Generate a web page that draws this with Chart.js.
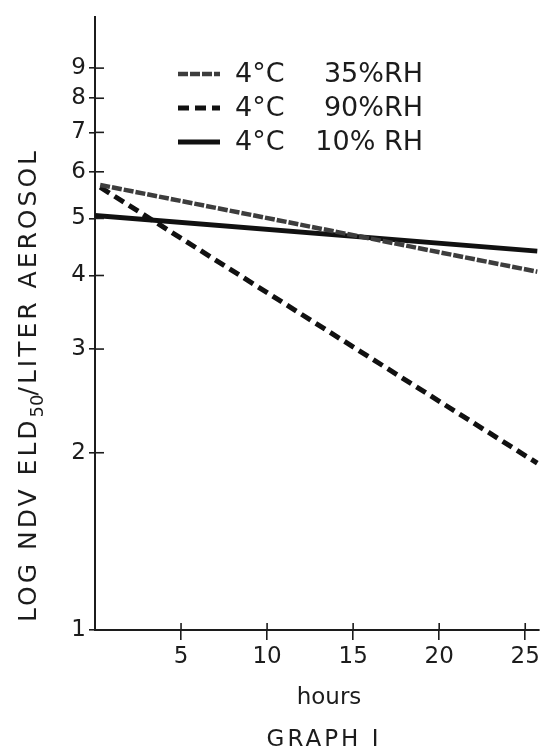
<!DOCTYPE html>
<html>
<head>
<meta charset="utf-8">
<script src="https://cdn.jsdelivr.net/npm/chart.js@4.4.0/dist/chart.umd.min.js"></script>
<style>
  html, body { margin: 0; padding: 0; background: #fff; }
  #wrap { width: 554px; height: 753px; }
</style>
</head>
<body>
<div id="wrap"><canvas id="graph"></canvas></div>
<script>
// values (hours vs ELD50 per liter, log axis)
const hours35 = [0.3, 25.7];
const ndv35 = [5.7, 4.06];
const hours90 = [0.3, 25.7];
const ndv90 = [5.65, 1.92];
const hours10 = [0, 25.7];
const ndv10 = [5.06, 4.4];

const legendTemp = ['4°C', '4°C', '4°C'];
const legendRH = ['35%RH', '90%RH', '10% RH'];

const yTicks = [1, 2, 3, 4, 5, 6, 7, 8, 9];
const xTicks = [5, 10, 15, 20, 25];

const FONT = 'DejaVu Sans';
const INK = '#1c1c1c';

function pts(xs, ys) {
  return xs.map((x, i) => ({x: x, y: ys[i]}));
}

// little cross marks on the axes + legend + titles
const paperBits = {
  id: 'paperBits',
  afterDraw(chart) {
    const ctx = chart.ctx;
    const xs = chart.scales.x, ys = chart.scales.y;
    const area = chart.chartArea;
    ctx.save();
    ctx.strokeStyle = INK;
    ctx.lineWidth = 1.6;
    yTicks.forEach(v => {
      const py = ys.getPixelForValue(v);
      if (v === 1) return;
      ctx.beginPath();
      ctx.moveTo(area.left, py);
      ctx.lineTo(area.left + 9, py);
      ctx.stroke();
    });
    xTicks.forEach(v => {
      const px = xs.getPixelForValue(v);
      ctx.beginPath();
      ctx.moveTo(px, area.bottom);
      ctx.lineTo(px, area.bottom - 7);
      ctx.stroke();
    });

    // legend
    const rowY = [74, 108, 142];
    chart.data.datasets.forEach((ds, i) => {
      ctx.save();
      ctx.strokeStyle = ds.borderColor;
      ctx.lineWidth = ds.borderWidth;
      ctx.setLineDash(ds.borderDash || []);
      ctx.beginPath();
      ctx.moveTo(178, rowY[i]);
      ctx.lineTo(220, rowY[i]);
      ctx.stroke();
      ctx.restore();
      ctx.fillStyle = INK;
      ctx.font = '27px "' + FONT + '"';
      ctx.textBaseline = 'middle';
      ctx.textAlign = 'left';
      ctx.fillText(legendTemp[i], 235, rowY[i] + 1);
      ctx.textAlign = 'right';
      ctx.fillText(legendRH[i], 423, rowY[i] + 1);
    });

    // y title with subscript
    ctx.save();
    ctx.translate(29, 622);
    ctx.rotate(-Math.PI / 2);
    ctx.fillStyle = INK;
    ctx.textBaseline = 'middle';
    ctx.textAlign = 'left';
    ctx.letterSpacing = '3px';
    ctx.font = '25px "' + FONT + '"';
    let x = 0;
    const a = 'LOG NDV ELD';
    ctx.fillText(a, x, 0);
    x += ctx.measureText(a).width;
    ctx.font = '18px "' + FONT + '"';
    ctx.letterSpacing = '0px';
    ctx.fillText('50', x, 9);
    x += ctx.measureText('50').width;
    ctx.letterSpacing = '3px';
    ctx.font = '25px "' + FONT + '"';
    ctx.fillText('/LITER AEROSOL', x - 1, 0);
    ctx.restore();

    // x title and caption
    ctx.fillStyle = INK;
    ctx.textAlign = 'center';
    ctx.textBaseline = 'middle';
    ctx.font = '23px "' + FONT + '"';
    ctx.fillText('hours', 329, 698);
    ctx.letterSpacing = '3px';
    ctx.fillText('GRAPH I', 324, 740);
    ctx.restore();
  }
};

new Chart(document.getElementById('graph'), {
  type: 'line',
  data: {
    datasets: [
      {
        label: '4°C 35%RH',
        data: pts(hours35, ndv35),
        borderColor: '#3d3d3d',
        borderWidth: 4.5,
        borderDash: [10, 2],
        pointRadius: 0
      },
      {
        label: '4°C 90%RH',
        data: pts(hours90, ndv90),
        borderColor: '#111',
        borderWidth: 5,
        borderDash: [11, 6],
        pointRadius: 0
      },
      {
        label: '4°C 10%RH',
        data: pts(hours10, ndv10),
        borderColor: '#111',
        borderWidth: 5,
        pointRadius: 0
      }
    ]
  },
  options: {
    responsive: true,
    maintainAspectRatio: false,
    animation: false,
    layout: {padding: {top: 10, right: 15, left: 0, bottom: 0}},
    plugins: {
      legend: {display: false},
      tooltip: {enabled: false}
    },
    scales: {
      x: {
        type: 'linear',
        min: 0,
        max: 25.8,
        afterBuildTicks: s => { s.ticks = xTicks.map(v => ({value: v})); },
        afterFit: s => { s.height = 123; },
        border: {color: INK, width: 2},
        grid: {drawOnChartArea: false, color: INK, lineWidth: 1.6, tickLength: 10},
        ticks: {color: INK, padding: 3, font: {family: FONT, size: 23}, maxRotation: 0}
      },
      y: {
        type: 'logarithmic',
        min: 1,
        max: 11,
        afterBuildTicks: s => { s.ticks = yTicks.map(v => ({value: v})); },
        afterFit: s => { s.width = 95; },
        border: {color: INK, width: 2},
        grid: {drawOnChartArea: false, color: INK, lineWidth: 1.6, tickLength: 6},
        ticks: {
          color: INK,
          padding: 3,
          font: {family: FONT, size: 23},
          callback: v => String(v)
        }
      }
    }
  },
  plugins: [paperBits]
});
</script>
</body>
</html>
